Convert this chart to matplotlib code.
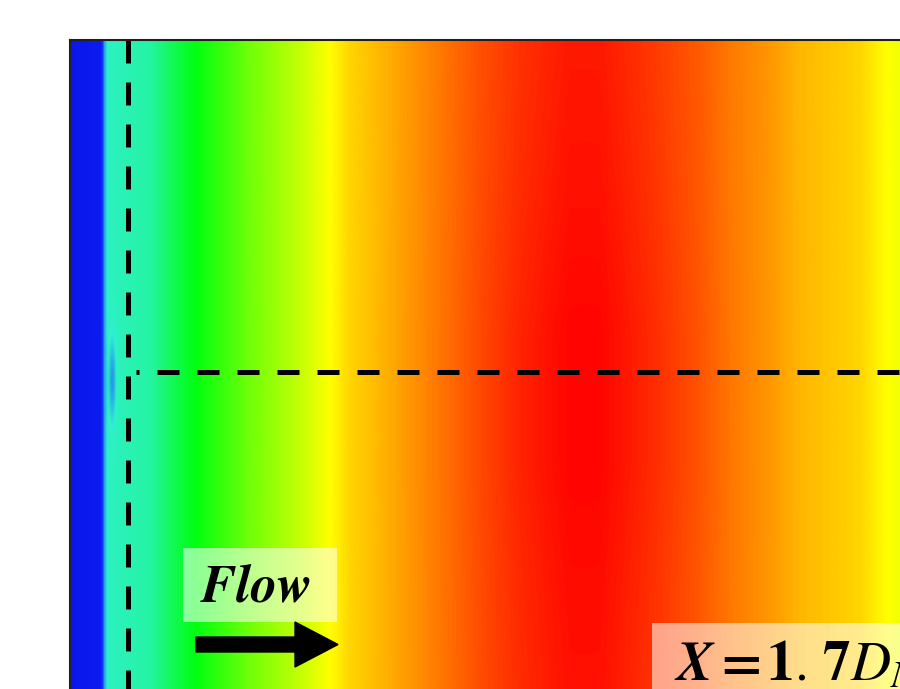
import numpy as np
import matplotlib
matplotlib.use('Agg')
import matplotlib.pyplot as plt
from matplotlib.colors import LinearSegmentedColormap
from matplotlib.patches import FancyArrow, Rectangle

plt.rcParams['mathtext.fontset'] = 'stix'

# Streamwise profile of normalized velocity (x in arbitrary units across the panel)
x_prof = [0, 30, 34, 38, 80, 100, 125, 180, 230, 260, 280, 330, 380, 410,
          450, 500, 530, 580, 630, 660, 700, 730, 760, 790, 810, 830]
v_prof = [0.02, 0.04, 0.20, 0.27, 0.31, 0.40, 0.50, 0.61, 0.69, 0.75, 0.79,
          0.84, 0.89, 0.92, 0.95, 0.975, 0.975, 0.945, 0.91, 0.88, 0.85,
          0.82, 0.805, 0.79, 0.76, 0.735]
# mild spanwise strengthening of the core
y_prof = [0, 150, 300, 420, 550, 649]
core_gain = [0.0, 0.008, 0.02, 0.02, 0.012, 0.008]
# weak low-velocity streak near the wall
streak_center = (42, 340)
streak_size = (4.0, 42.0)
streak_depth = 0.08

x_probe = 58      # vertical probe line
y_probe = 332     # horizontal probe line
flow_label = r'$\boldsymbol{Flow}$'
pos_label = r'$\boldsymbol{X=1.\,7D_N}$'

cmap = LinearSegmentedColormap.from_list('vel', [
    (0.0, '#0a12e8'), (0.12, '#1030ff'), (0.25, '#30f0d0'),
    (0.5, '#00ff10'), (0.75, '#ffff00'), (1.0, '#ff0000')])

X = np.linspace(0, 830, 832)
Y = np.linspace(0, 649, 650)
prof = np.interp(X, x_prof, v_prof)
gy = np.interp(Y, y_prof, core_gain)
core = np.exp(-((X - 515) / 110.0) ** 2)
F = prof[None, :] + gy[:, None] * core[None, :]
sx = np.exp(-((X - streak_center[0]) / streak_size[0]) ** 2)
sy = np.exp(-((Y - streak_center[1]) / streak_size[1]) ** 2)
F = F - streak_depth * sy[:, None] * sx[None, :]

fig = plt.figure(figsize=(9, 6.89), dpi=100)
ax = fig.add_axes([70 / 900, 0, 830 / 900, 649 / 689])
ax.imshow(F, cmap=cmap, vmin=0, vmax=1, extent=[0, 830, 649, 0],
          aspect='auto', interpolation='bilinear')
ax.set_xlim(0, 830)
ax.set_ylim(649, 0)
ax.set_xticks([])
ax.set_yticks([])
for s in ['right', 'bottom']:
    ax.spines[s].set_visible(False)
for s in ['left', 'top']:
    ax.spines[s].set_color('#202020')
    ax.spines[s].set_linewidth(1.5)

ax.plot([x_probe, x_probe], [0, 649], color='k', lw=3.6,
        linestyle=(0, (4.6, 3.8)))
ax.plot([x_probe + 8, 830], [y_probe, y_probe], color='k', lw=3.6,
        linestyle=(3.8, (4.4, 3.6)))

ax.add_patch(Rectangle((113, 508), 154, 74, facecolor='white', alpha=0.55,
                       edgecolor='none'))
ax.text(186, 546, flow_label, fontsize=38, ha='center', va='center')
ax.add_patch(FancyArrow(126, 604.5, 142, 0, width=15, head_width=45,
                        head_length=43, length_includes_head=True,
                        color='k'))

ax.add_patch(Rectangle((582, 583), 260, 80, facecolor='white', alpha=0.55,
                       edgecolor='none', clip_on=False))
ax.text(604, 640, pos_label, fontsize=40, ha='left', va='baseline')

fig.savefig('out.png', dpi=100)
